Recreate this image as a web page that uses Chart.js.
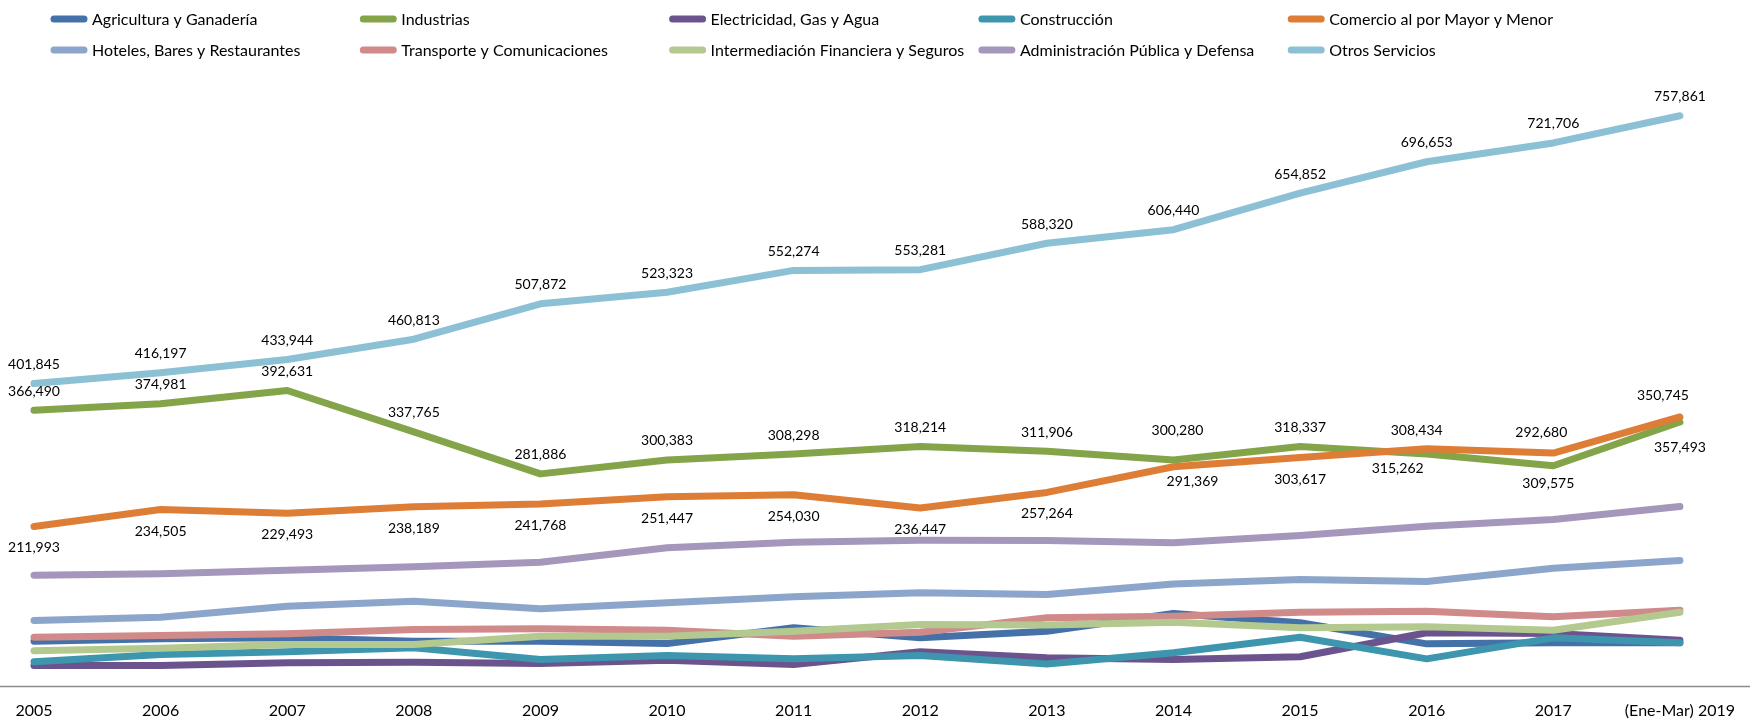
<!DOCTYPE html>
<html>
<head>
<meta charset="utf-8">
<script src="https://cdn.jsdelivr.net/npm/chart.js@4"></script>
<style>
html,body{margin:0;padding:0;background:#fff;}
#wrap{width:1750px;height:721px;position:relative;}
canvas{display:block;}
</style>
</head>
<body>
<div id="wrap"><canvas id="c" width="1750" height="721"></canvas></div>
<script>
// ---- data ----
const categories = ['2005','2006','2007','2008','2009','2010','2011','2012','2013','2014','2015','2016','2017','(Ene-Mar) 2019'];
const seriesNames = ['Agricultura y Ganadería','Industrias','Electricidad, Gas y Agua','Construcción','Comercio al por Mayor y Menor','Hoteles, Bares y Restaurantes','Transporte y Comunicaciones','Intermediación Financiera y Seguros','Administración Pública y Defensa','Otros Servicios'];
const agricultura    = [59500, 62700, 64000, 59500, 59500, 56500, 77300, 64000, 72800, 96300, 84000, 56000, 57400, 57400];
const industrias     = [366490, 374981, 392631, 337765, 281886, 300383, 308298, 318214, 311906, 300280, 318337, 308434, 292680, 350745];
const electricidad   = [27200, 27200, 30800, 31600, 29900, 34300, 28600, 45500, 37500, 35200, 38800, 70700, 69700, 60800];
const construccion   = [32200, 41800, 45400, 50700, 35200, 40500, 36100, 40500, 29200, 44100, 64800, 36100, 64000, 57400];
const comercio       = [211993, 234505, 229493, 238189, 241768, 251447, 254030, 236447, 257264, 291369, 303617, 315262, 309575, 357493];
const hoteles        = [87000, 91400, 106000, 112700, 102600, 110500, 118500, 123800, 121600, 135500, 141500, 138800, 156500, 166900];
const transporte     = [64800, 67100, 69300, 75000, 76000, 74100, 66200, 71500, 90600, 92700, 98000, 99400, 91900, 100700];
const intermediacion = [46800, 50200, 55100, 55100, 66200, 66200, 72800, 81700, 81000, 84800, 77300, 78600, 74100, 98000];
const administracion = [147200, 149100, 153800, 158400, 164500, 183600, 191000, 193700, 193500, 190500, 199900, 212300, 221200, 238500];
const otros          = [401845, 416197, 433944, 460813, 507872, 523323, 552274, 553281, 588320, 606440, 654852, 696653, 721706, 757861];

const seriesValues = [agricultura, industrias, electricidad, construccion, comercio, hoteles, transporte, intermediacion, administracion, otros];
const seriesColors = ['#4471a8','#84a449','#6b548e','#3d96ae','#de7e36','#8ca5cb','#cf8a89','#b3c98f','#a596bc','#8cc0d4'];

// which series carry value labels, and where
const labelPlacement = {
  'Otros Servicios': 'above',
  'Industrias': 'above',
  'Comercio al por Mayor y Menor': 'below'
};
// manual label nudges (dx, dy) as in the reference
const labelNudge = {
  'Industrias': {9:[4,-11], 11:[-10,-4], 12:[-12,-14], 13:[-17,-8]},
  'Comercio al por Mayor y Menor': {9:[19,-7], 11:[-29,-2], 12:[-5,9], 13:[0,9]}
};

const n = seriesNames.length;
const datasets = seriesNames.map((name, i) => ({
  label: name,
  data: seriesValues[i],
  borderColor: seriesColors[i],
  backgroundColor: seriesColors[i],
  borderWidth: 7,
  borderCapStyle: 'round',
  borderJoinStyle: 'round',
  pointRadius: 0,
  pointHoverRadius: 0,
  tension: 0,
  fill: false,
  clip: false,
  order: n - i
}));

const FONT = 'Lato, "Open Sans", "Liberation Sans", sans-serif';

const axisLinePlugin = {
  id: 'axisLine',
  beforeDatasetsDraw(chart) {
    const ctx = chart.ctx;
    const y = Math.round(chart.scales.y.getPixelForValue(0)) + 0.5;
    ctx.save();
    ctx.strokeStyle = '#8c8c8c';
    ctx.lineWidth = 1.5;
    ctx.beginPath();
    ctx.moveTo(0, y);
    ctx.lineTo(chart.width, y);
    ctx.stroke();
    ctx.restore();
  }
};

const valueLabelPlugin = {
  id: 'valueLabels',
  afterDatasetsDraw(chart) {
    const ctx = chart.ctx;
    ctx.save();
    ctx.font = '14px ' + FONT;
    ctx.fillStyle = '#000';
    ctx.textAlign = 'center';
    ctx.textBaseline = 'middle';
    chart.data.datasets.forEach((ds, di) => {
      const place = labelPlacement[ds.label];
      if (!place) return;
      const meta = chart.getDatasetMeta(di);
      const nudges = labelNudge[ds.label] || {};
      meta.data.forEach((pt, j) => {
        const v = ds.data[j];
        const nd = nudges[j] || [0, 0];
        const y = place === 'above' ? pt.y - 19 : pt.y + 21.5;
        ctx.fillText(v.toLocaleString('en-US'), pt.x + nd[0], y + nd[1]);
      });
    });
    ctx.restore();
  }
};

const gridLegendPlugin = {
  id: 'gridLegend',
  afterDraw(chart) {
    const ctx = chart.ctx;
    ctx.save();
    chart.data.datasets.forEach((ds, i) => {
      const col = i % 5, row = Math.floor(i / 5);
      const x = 50 + col * 309.3;
      const y = 19 + row * 31;
      ctx.strokeStyle = ds.borderColor;
      ctx.lineWidth = 7;
      ctx.lineCap = 'round';
      ctx.beginPath();
      ctx.moveTo(x + 4, y);
      ctx.lineTo(x + 34, y);
      ctx.stroke();
      ctx.fillStyle = '#000';
      ctx.font = '16px ' + FONT;
      ctx.textAlign = 'left';
      ctx.textBaseline = 'middle';
      ctx.fillText(ds.label, x + 42, y + 1);
    });
    ctx.restore();
  }
};

new Chart(document.getElementById('c'), {
  type: 'line',
  data: { labels: categories, datasets: datasets },
  options: {
    responsive: false,
    animation: false,
    devicePixelRatio: 1,
    layout: { padding: { left: 34, right: 63, top: 84, bottom: 0 } },
    plugins: { legend: { display: false }, tooltip: { enabled: false } },
    scales: {
      x: {
        type: 'category',
        offset: false,
        grid: { display: false, drawTicks: false },
        border: { display: false },
        ticks: {
          autoSkip: false,
          maxRotation: 0,
          padding: 15,
          color: '#000',
          font: { family: FONT, size: 16 }
        },
        afterFit(scale) { scale.height = 35; }
      },
      y: {
        display: false,
        min: 0,
        max: 800000
      }
    }
  },
  plugins: [axisLinePlugin, valueLabelPlugin, gridLegendPlugin]
});
</script>
</body>
</html>
